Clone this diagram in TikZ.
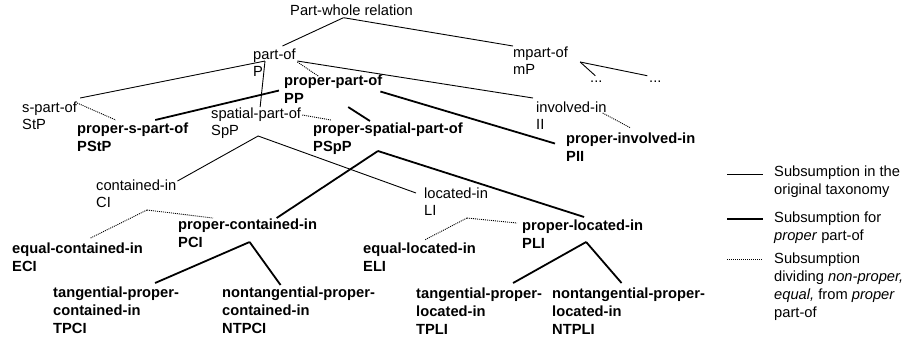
\documentclass[tikz,border=0pt]{standalone}
\usepackage{fontspec}
\setmainfont{Liberation Sans}
\begin{document}
\begin{tikzpicture}[x=1pt,y=-1pt,
  lbl/.style={font=\fontsize{14.7}{17}\selectfont, align=left, inner sep=0pt, anchor=north west},
  blbl/.style={lbl, font=\fontsize{14.7}{18}\selectfont\bfseries},
  lgd/.style={lbl, font=\fontsize{14.7}{18}\selectfont},
  subline/.style={line width=0.9pt},
  properline/.style={line width=1.8pt},
  divline/.style={line width=0.9pt, dash pattern=on 1pt off 1pt}]

\useasboundingbox (0,0) rectangle (905,341);

\node[lbl] (pw) at (290,5) {Part-whole relation};
\node[lbl] (partof) at (253,49) {part-of\\P};
\node[lbl] (mpartof) at (513,47) {mpart-of\\mP};
\node[lbl,anchor=base west] (dotsa) at (590,82) {...};
\node[lbl,anchor=base west] (dotsb) at (649,82) {...};
\node[blbl] (pp) at (284,75) {proper-part-of\\PP};
\node[lbl] (spartof) at (22,102) {s-part-of\\StP};
\node[lbl] (spatial) at (211,108) {spatial-part-of\\SpP};
\node[lbl] (involved) at (536,102) {involved-in\\II};
\node[blbl] (pstp) at (77,123) {proper-s-part-of\\PStP};
\node[blbl] (pspp) at (313,123) {proper-spatial-part-of\\PSpP};
\node[blbl] (pii) at (566,133) {proper-involved-in\\PII};
\node[lbl] (ci) at (96,180) {contained-in\\CI};
\node[lbl] (li) at (424,188) {located-in\\LI};
\node[blbl] (pci) at (178,219) {proper-contained-in\\PCI};
\node[blbl] (pli) at (522,220) {proper-located-in\\PLI};
\node[blbl] (eci) at (12,243) {equal-contained-in\\ECI};
\node[blbl] (eli) at (363,243) {equal-located-in\\ELI};
\node[blbl] (tpci) at (53,287) {tangential-proper-\\contained-in\\TPCI};
\node[blbl] (ntpci) at (222,287) {nontangential-proper-\\contained-in\\NTPCI};
\node[blbl] (tpli) at (416,288) {tangential-proper-\\located-in\\TPLI};
\node[blbl] (ntpli) at (552,288) {nontangential-proper-\\located-in\\NTPLI};

% original taxonomy
\draw[subline] ([shift={(-8,1.5)}]pw.south) -- ([shift={(8,-3)}]partof.north);
\draw[subline] ([shift={(-8,1.5)}]pw.south) -- ([shift={(0,-1)}]mpartof.north west);
\draw[subline] ([shift={(12,-2)}]partof.west) -- ([shift={(3,-4)}]spartof.north east);
\draw[subline] ([shift={(12,-2)}]partof.west) -- ([shift={(4,-1)}]spatial.north);
\draw[subline] ([shift={(1.5,-2)}]partof.east) -- ([shift={(-3,-4)}]involved.north west);
\draw[subline] ([shift={(2,28)}]spatial.north) -- ([shift={(1,1)}]ci.north east);
\draw[subline] ([shift={(2,28)}]spatial.north) -- ([shift={(-8,5)}]li.north west);
\draw[subline] ([shift={(12,15)}]mpartof.north east) -- ([shift={(-1,-4.5)}]dotsa.north);
\draw[subline] ([shift={(12,15)}]mpartof.north east) -- ([shift={(-8,-4.5)}]dotsb.north);

% proper part-of
\draw[properline] ([shift={(-5,1)}]pp.west) -- ([shift={(22.5,-3)}]pstp.north);
\draw[properline] ([shift={(15,3)}]pp.south) -- ([shift={(-18,-2)}]pspp.north);
\draw[properline] ([shift={(-2,2)}]pp.east) -- ([shift={(-11,-4)}]pii.west);
\draw[properline] ([shift={(-10,28)}]pspp.north) -- ([shift={(29,-1)}]pci.north);
\draw[properline] ([shift={(-10,28)}]pspp.north) -- ([shift={(1.5,-3)}]pli.north);
\draw[properline] ([shift={(2,23)}]pci.north) -- ([shift={(39,-4)}]tpci.north);
\draw[properline] ([shift={(2,23)}]pci.north) -- ([shift={(-18,-2)}]ntpci.north);
\draw[properline] ([shift={(3.5,22)}]pli.north) -- ([shift={(34,-5)}]tpli.north);
\draw[properline] ([shift={(3.5,22)}]pli.north) -- ([shift={(-7,-5)}]ntpli.north);

% dividing
\draw[divline] ([shift={(1.5,-1)}]partof.east) -- ([shift={(-15,1)}]pp.north);
\draw[divline] ([shift={(0,1)}]spartof.north east) -- ([shift={(-17,-3)}]pstp.north);
\draw[divline] ([shift={(1,7)}]spatial.north east) -- ([shift={(18,-3)}]pspp.north west);
\draw[divline] ([shift={(-4,11)}]involved.north east) -- ([shift={(0,-5)}]pii.north);
\draw[divline] ([shift={(51,30)}]ci.north west) -- ([shift={(13,-5)}]eci.north);
\draw[divline] ([shift={(51,30)}]ci.north west) -- ([shift={(35,-1)}]pci.north west);
\draw[divline] ([shift={(43,30)}]li.north west) -- ([shift={(5,-3)}]eli.north);
\draw[divline] ([shift={(43,30)}]li.north west) -- ([shift={(-5,3)}]pli.north west);

% legend
\node[lgd] (lega) at (774,166) {Subsumption in the\\original taxonomy};
\node[lgd] (legb) at (774,212) {Subsumption for\\\textit{proper} part-of};
\node[lgd] (legc) at (774,253) {Subsumption\\dividing \textit{non-proper,}\\\textit{equal,} from \textit{proper}\\part-of};
\draw[subline] ([shift={(-47,8)}]lega.north west) -- ([shift={(-11,8)}]lega.north west);
\draw[properline] ([shift={(-47,7)}]legb.north west) -- ([shift={(-11,7)}]legb.north west);
\draw[divline] ([shift={(-47,6)}]legc.north west) -- ([shift={(-11,6)}]legc.north west);

\end{tikzpicture}
\end{document}
